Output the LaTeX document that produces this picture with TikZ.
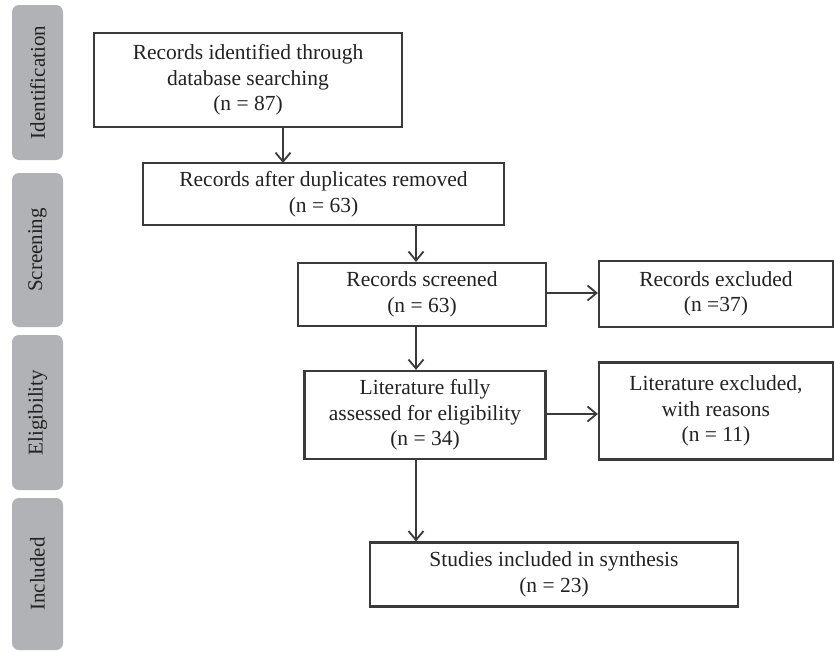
\documentclass[tikz,border=0pt]{standalone}
\usepackage{fontspec}
\setmainfont{Liberation Serif}
\usetikzlibrary{arrows.meta}
\definecolor{barfill}{HTML}{B1B2B6}
\definecolor{linecol}{HTML}{3A3A3A}
\definecolor{txtcol}{HTML}{222222}
\tikzset{
  box/.style={draw=linecol, line width=2.2pt, fill=white, inner sep=0pt, align=center,
    text=txtcol, font=\fontsize{21.5}{25.5}\selectfont},
  phase/.style={fill=barfill, rounded corners=7pt, inner sep=0pt},
  phasetext/.style={rotate=90, text=txtcol, font=\fontsize{21}{24}\selectfont},
  arr/.style={draw=linecol, line width=1.8pt, -{Straight Barb[length=9pt,width=15pt,line width=1.8pt]}}
}
\begin{document}
\begin{tikzpicture}[x=1pt,y=-1pt]
\useasboundingbox (0,0) rectangle (835,651);
% phase bars
\node[phase, minimum width=51pt, minimum height=155pt] (pid) at (37.5,82.5) {};
\node[phasetext] (tid) at (pid.center) {Identification};
\node[phase, minimum width=51pt, minimum height=154pt] (psc) at (37.5,250) {};
\node[phasetext] (tsc) at (psc.center) {Screening};
\node[phase, minimum width=51pt, minimum height=155pt] (pel) at (37.5,412.5) {};
\node[phasetext] (tel) at (pel.center) {Eligibility};
\node[phase, minimum width=51pt, minimum height=152pt] (pin) at (37.5,574) {};
\node[phasetext] (tin) at (pin.center) {Included};
% boxes
\node[box, minimum width=308pt, minimum height=94pt] (b1) at (248,80) {Records identified through\\database searching\\(n = 87)};
\node[box, minimum width=361pt, minimum height=62pt] (b2) at (323.5,194) {Records after duplicates removed\\(n = 63)};
\node[box, minimum width=248pt, minimum height=63pt] (b3) at (422,294.5) {Records screened\\(n = 63)};
\node[box, minimum width=234pt, minimum height=66pt] (e1) at (716,294) {Records excluded\\(n =37)};
\node[box, minimum width=241pt, minimum height=88pt] (b4) at (425,415) {Literature fully\\assessed for eligibility\\(n = 34)};
\node[box, minimum width=234pt, minimum height=97pt] (e2) at (716,411) {Literature excluded,\\with reasons\\(n = 11)};
\node[box, minimum width=368pt, minimum height=64pt] (b5) at (554,574.5) {Studies included in synthesis\\(n = 23)};
% connectors
\coordinate (a1s) at (283,127);
\coordinate (a1e) at (283,163);
\draw[arr] (a1s) -- (a1e);
\draw[arr] (b2.south -| 416,0) -- (b3.north -| 416,0);
\draw[arr] (b3.south -| 416,0) -- (b4.north -| 416,0);
\draw[arr] (b4.south -| 416,0) -- (b5.north -| 416,0);
\draw[arr] (b3.east |- 0,293) -- (e1.west |- 0,293);
\draw[arr] (b4.east |- 0,414) -- (e2.west |- 0,414);
\end{tikzpicture}
\end{document}
